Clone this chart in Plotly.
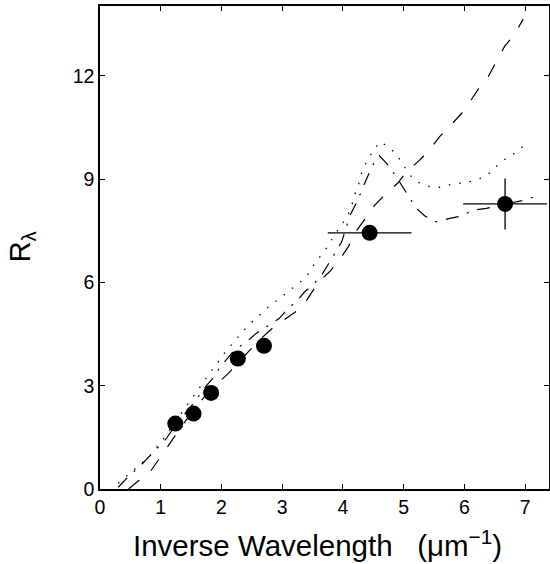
import plotly.graph_objects as go

# Observed points
obs_x = [1.24, 1.54, 1.83, 2.27, 2.70, 4.44, 6.67]
obs_y = [1.90, 2.19, 2.79, 3.79, 4.16, 7.44, 8.28]
obs_xerr = [0, 0, 0, 0, 0, 0.69, 0.69]
obs_yerr = [0, 0, 0, 0, 0, 0, 0.74]

# Dashed model curve
dash_x = [0.47, 0.62, 0.81, 0.96, 1.11, 1.26, 1.50, 1.80, 2.11, 2.22, 2.48, 2.62, 2.85, 3.07,
          3.27, 3.41, 3.60, 3.78, 3.94, 4.09, 4.21, 4.36, 4.52, 4.69, 4.90, 5.05, 5.25, 5.40,
          5.60, 5.76, 5.95, 6.11, 6.25, 6.40, 6.53, 6.66, 6.82, 6.97]
dash_y = [0.00, 0.22, 0.46, 0.83, 1.22, 1.61, 2.20, 2.85, 3.35, 3.57, 4.05, 4.32, 4.69, 4.95,
          5.21, 5.50, 6.02, 6.31, 6.65, 7.04, 7.47, 7.83, 8.24, 8.54, 8.88, 9.22, 9.53, 9.80,
          10.25, 10.54, 10.90, 11.30, 11.67, 12.00, 12.44, 12.85, 13.20, 13.65]

# Dash-dot model curve
dd_x = [0.30, 0.46, 0.65, 0.80, 0.92, 1.09, 1.24, 1.50, 1.76, 1.88, 1.96, 2.21, 2.43, 2.57,
        2.79, 2.95, 3.08, 3.26, 3.37, 3.52, 3.66, 3.88, 3.98, 4.12, 4.23, 4.38, 4.48, 4.60,
        4.72, 4.86, 5.07, 5.21, 5.35, 5.54, 5.76, 5.95, 6.14, 6.36, 6.60, 6.88, 6.99, 7.15]
dd_y = [0.05, 0.35, 0.65, 0.91, 1.14, 1.46, 1.85, 2.40, 3.02, 3.26, 3.50, 4.03, 4.30, 4.52,
        4.76, 4.95, 5.21, 5.50, 5.73, 5.95, 6.24, 6.89, 7.18, 7.96, 8.34, 8.97, 9.38, 9.68,
        9.46, 9.12, 8.54, 8.15, 7.93, 7.76, 7.86, 7.93, 8.10, 8.15, 8.25, 8.34, 8.39, 8.49]

# Dotted model curve
dot_x = [0.30, 0.55, 0.80, 1.04, 1.30, 1.50, 1.61, 1.73, 1.85, 1.97, 2.07, 2.22, 2.34, 2.48,
         2.63, 2.77, 2.93, 3.08, 3.23, 3.39, 3.49, 3.61, 3.74, 3.85, 3.96, 4.07, 4.14, 4.19,
         4.26, 4.31, 4.39, 4.49, 4.61, 4.75, 4.89, 4.99, 5.10, 5.25, 5.43, 5.62, 5.81, 6.01,
         6.20, 6.38, 6.52, 6.67, 6.84, 6.99]
dot_y = [0.17, 0.55, 0.92, 1.45, 2.10, 2.60, 2.90, 3.20, 3.47, 3.74, 4.00, 4.30, 4.56, 4.81,
         5.05, 5.28, 5.50, 5.70, 5.92, 6.14, 6.44, 6.73, 7.02, 7.35, 7.62, 7.91, 8.20, 8.54,
         8.86, 9.19, 9.51, 9.80, 10.09, 9.94, 9.70, 9.41, 9.12, 8.90, 8.78, 8.76, 8.86, 8.90,
         8.97, 9.12, 9.36, 9.58, 9.77, 9.99]

x_ticks = [0, 1, 2, 3, 4, 5, 6, 7]
y_ticks = [0, 3, 6, 9, 12]

FONT = "Liberation Sans, Arial, Helvetica, sans-serif"

fig = go.Figure()
fig.add_trace(go.Scatter(x=dash_x, y=dash_y, mode="lines",
                         line=dict(color="black", width=1.2, dash="14px,15px"),
                         hoverinfo="skip", showlegend=False))
fig.add_trace(go.Scatter(x=dd_x, y=dd_y, mode="lines",
                         line=dict(color="black", width=1.2, dash="13px,9px,2px,9px"),
                         hoverinfo="skip", showlegend=False))
fig.add_trace(go.Scatter(x=dot_x, y=dot_y, mode="lines",
                         line=dict(color="black", width=1.3, dash="1.5px,9px"),
                         hoverinfo="skip", showlegend=False))
fig.add_trace(go.Scatter(
    x=obs_x, y=obs_y, mode="markers",
    marker=dict(color="black", size=16, line=dict(width=0)),
    error_x=dict(type="data", array=obs_xerr, symmetric=True, color="black",
                 thickness=1.3, width=0),
    error_y=dict(type="data", array=obs_yerr, symmetric=True, color="black",
                 thickness=1.3, width=0),
    showlegend=False))

axis_common = dict(showgrid=False, zeroline=False, showline=True, linecolor="black",
                   linewidth=1.5, mirror="ticks", ticks="inside", ticklen=5,
                   tickwidth=1.2, tickcolor="black",
                   tickfont=dict(family=FONT, size=19.5, color="black"))

# plot area spans 451 px at 61 px per unit
fig.update_xaxes(range=[0, 451 / 61], tickvals=x_ticks, ticktext=[str(v) for v in x_ticks],
                 **axis_common)
fig.update_yaxes(range=[0, 14.03], tickvals=y_ticks, ticktext=[str(v) for v in y_ticks],
                 **axis_common)

PW, PH = 451, 483
fig.update_layout(
    width=551, height=564,
    margin=dict(l=100, r=0, t=6, b=75),
    plot_bgcolor="white", paper_bgcolor="white",
    font=dict(family=FONT, color="black"),
    annotations=[
        dict(text="Inverse Wavelength\u00a0\u00a0\u00a0(\u03bcm<sup>\u22121</sup>)",
             xref="paper", yref="paper", x=(131 - 100) / PW, y=(489 - 563.5) / PH,
             xanchor="left", yanchor="bottom", showarrow=False,
             font=dict(family=FONT, size=29.5, color="black")),
        dict(text="R<sub>\u03bb</sub>", textangle=-90,
             xref="paper", yref="paper", x=(22 - 100) / PW, y=(489 - 247) / PH,
             xanchor="center", yanchor="middle", showarrow=False,
             font=dict(family=FONT, size=29, color="black")),
    ],
)

fig.write_html("out.html", config={"displayModeBar": False},
               post_script="document.body.style.margin='0';document.body.style.overflow='hidden';")
